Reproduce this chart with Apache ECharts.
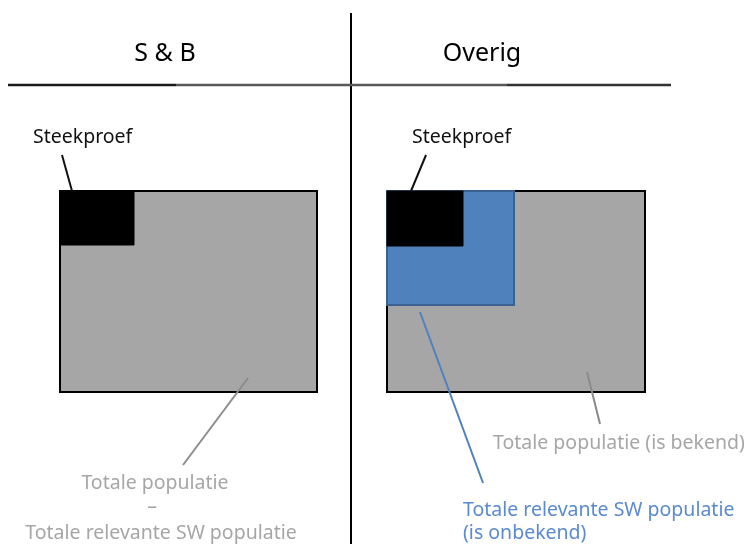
<!DOCTYPE html>
<html>
<head>
<meta charset="utf-8">
<script src="https://cdn.jsdelivr.net/npm/echarts@6/dist/echarts.min.js"></script>
<style>
  html, body { margin: 0; padding: 0; background: #fff; }
  #chart { width: 755px; height: 544px; }
</style>
</head>
<body>
<div id="chart"></div>
<script>
// diagram is laid out on a hidden 755 x 544 value grid (y downwards)
var boxes = [            // [x0, y0, x1, y1]
  [60, 191, 317, 392],   // totale populatie S&B
  [387, 191, 645, 392],  // totale populatie overig
  [387, 191, 514, 305],  // relevante SW populatie
  [60, 191, 134, 245],   // steekproef S&B
  [387, 191, 463, 246]   // steekproef overig
];
var boxKinds = ["pop", "pop", "sw", "sample", "sample"];

var leaders = [          // [x0, y0, x1, y1]
  [62, 155, 72, 191],
  [426, 155, 411, 191],
  [248, 378, 183, 465],
  [587, 372, 600, 424],
  [420, 312, 483, 483]
];
var leaderKinds = ["dark", "dark", "gray", "gray", "blue"];

var rules = [
  [351, 13, 351, 544],
  [8, 85, 176, 85],
  [176, 85, 507, 85],
  [507, 85, 671, 85]
];
var ruleColors = ["#000", "#1a1a1a", "#595959", "#333"];

var headers = ["S & B", "Overig"];
var headerPos = [[165, 54], [482, 54]];

var notes = ["Steekproef", "Steekproef", "Totale populatie", "\u2013",
  "Totale relevante SW populatie", "Totale populatie (is bekend)",
  "Totale relevante SW populatie", "(is onbekend)"];
var notePos = [[33, 137], [412, 137], [155, 483], [152, 507], [161, 533],
  [493, 443], [463, 510], [463, 533]];
var noteAlign = ["left", "left", "center", "center", "center", "left", "left", "left"];
var noteKinds = ["dark", "dark", "gray", "gray", "gray", "gray", "blue", "blue"];

var boxStyle = {
  pop: { fill: "#a6a6a6", stroke: "#000", lineWidth: 2 },
  sw: { fill: "#4f81bd", stroke: "#3a6190", lineWidth: 2 },
  sample: { fill: "#000", stroke: "#000", lineWidth: 1 }
};
var inkColor = { dark: "#111", gray: "#a6a6a6", blue: "#5a8ad0" };
var leaderColor = { dark: "#111", gray: "#8c8c8c", blue: "#4f81bd" };

var font = "'Noto Sans', 'Open Sans', sans-serif";

var chart = echarts.init(document.getElementById("chart"));
var option = {
  animation: false,
  grid: { left: 0, right: 0, top: 0, bottom: 0 },
  xAxis: { type: "value", min: 0, max: 755, show: false },
  yAxis: { type: "value", min: 0, max: 544, inverse: true, show: false },
  series: [
    {
      type: "custom",
      name: "rules",
      data: rules,
      renderItem: function (params, api) {
        var a = api.coord([api.value(0), api.value(1)]);
        var b = api.coord([api.value(2), api.value(3)]);
        return {
          type: "line",
          shape: { x1: a[0], y1: a[1], x2: b[0], y2: b[1] },
          style: { stroke: ruleColors[params.dataIndex], lineWidth: params.dataIndex === 0 ? 2 : 2.5 }
        };
      }
    },
    {
      type: "custom",
      name: "boxes",
      data: boxes,
      renderItem: function (params, api) {
        var a = api.coord([api.value(0), api.value(1)]);
        var b = api.coord([api.value(2), api.value(3)]);
        var st = boxStyle[boxKinds[params.dataIndex]];
        return {
          type: "rect",
          shape: { x: a[0], y: a[1], width: b[0] - a[0], height: b[1] - a[1] },
          style: { fill: st.fill, stroke: st.stroke, lineWidth: st.lineWidth }
        };
      }
    },
    {
      type: "custom",
      name: "leaders",
      data: leaders,
      z: 3,
      renderItem: function (params, api) {
        var a = api.coord([api.value(0), api.value(1)]);
        var b = api.coord([api.value(2), api.value(3)]);
        return {
          type: "line",
          shape: { x1: a[0], y1: a[1], x2: b[0], y2: b[1] },
          style: { stroke: leaderColor[leaderKinds[params.dataIndex]], lineWidth: 2 }
        };
      }
    },
    {
      type: "custom",
      name: "headers",
      data: headerPos,
      renderItem: function (params, api) {
        var p = api.coord([api.value(0), api.value(1)]);
        return {
          type: "text",
          x: p[0], y: p[1],
          style: {
            text: headers[params.dataIndex], fill: "#000",
            font: "25px " + font, align: "center", verticalAlign: "middle"
          }
        };
      }
    },
    {
      type: "custom",
      name: "notes",
      data: notePos,
      z: 4,
      renderItem: function (params, api) {
        var i = params.dataIndex;
        var p = api.coord([api.value(0), api.value(1)]);
        return {
          type: "text",
          x: p[0], y: p[1],
          style: {
            text: notes[i], fill: inkColor[noteKinds[i]],
            font: "19.5px " + font, align: noteAlign[i], verticalAlign: "middle"
          }
        };
      }
    }
  ]
};
chart.setOption(option);
</script>
</body>
</html>
